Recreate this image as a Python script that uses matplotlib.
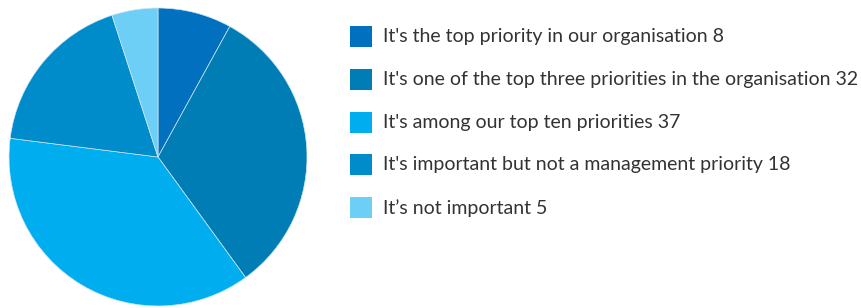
import matplotlib.pyplot as plt
from matplotlib.patches import Rectangle

labels = [
    "It's the top priority in our organisation",
    "It's one of the top three priorities in the organisation",
    "It's among our top ten priorities",
    "It's important but not a management priority",
    "It\u2019s not important",
]
values = [8, 32, 37, 18, 5]
colors = ['#0070BF', '#007DB5', '#00AEEF', '#008BCB', '#6DCFF6']

W, H = 862, 308
fig = plt.figure(figsize=(W / 100, H / 100), dpi=100)

# pie axes: centre (158, 157) px from top-left, radius ~149 px
r = 149
ax = fig.add_axes([(158 - r) / W, (H - 157 - r) / H, 2 * r / W, 2 * r / H])
ax.pie(values, colors=colors, startangle=90, counterclock=False, radius=1,
       wedgeprops=dict(linewidth=0.5, edgecolor='#cfe6f3'))
ax.set_xlim(-1, 1)
ax.set_ylim(-1, 1)
ax.set_aspect('equal')
ax.axis('off')

# legend drawn by hand
row0, step = 36.5, 42.8
for i, (lab, val, col) in enumerate(zip(labels, values, colors)):
    yc = row0 + i * step
    fig.patches.append(Rectangle((350 / W, (H - yc - 10.5) / H), 22 / W, 21 / H,
                                 transform=fig.transFigure, facecolor=col,
                                 edgecolor='none'))
    fig.text(383 / W, (H - yc) / H, f'{lab} {val}', fontsize=14,
             family='Lato', color='#333333', va='center', ha='left')

fig.savefig('out.png', dpi=100)
